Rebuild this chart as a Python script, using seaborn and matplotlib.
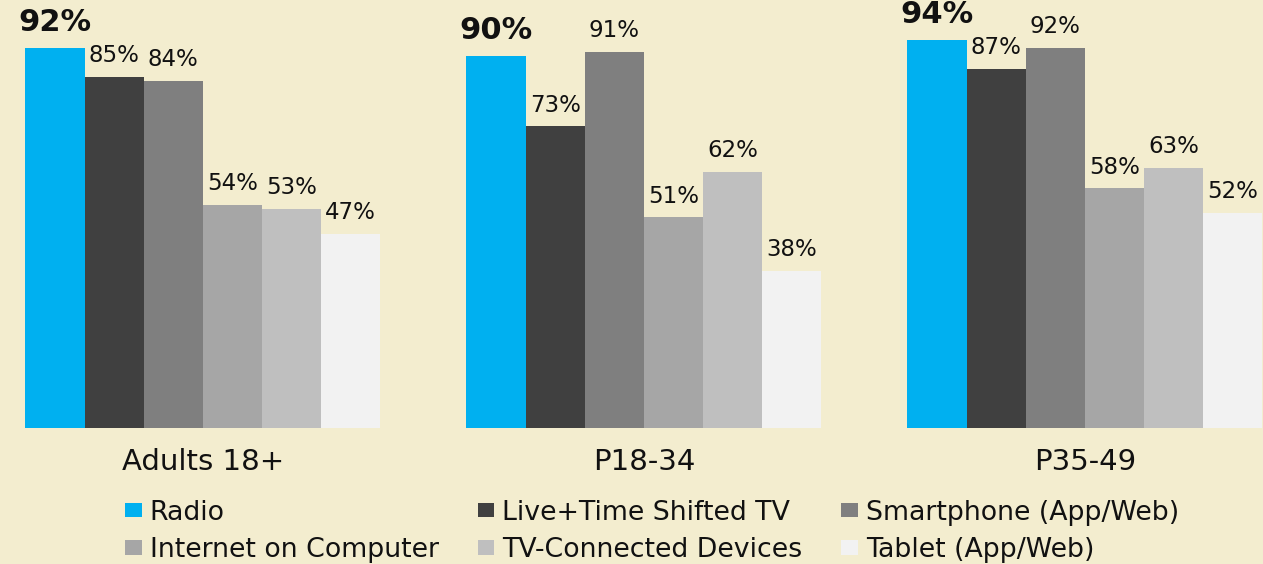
import numpy as np
import pandas as pd
import seaborn as sns
import matplotlib.pyplot as plt

# ---------------------------------- data ----------------------------------#
groups = ['Adults 18+', 'P18-34', 'P35-49']
devices = ['Radio', 'Live+Time Shifted TV', 'Smartphone (App/Web)',
           'Internet on Computer', 'TV-Connected Devices', 'Tablet (App/Web)']
radio = [92, 90, 94]
live_tv = [85, 73, 87]
smartphone = [84, 91, 92]
internet = [54, 51, 58]
tv_connected = [53, 62, 63]
tablet = [47, 38, 52]

colors = ['#00B0F0', '#404040', '#7F7F7F', '#A6A6A6', '#BFBFBF', '#F2F2F2']
bg = '#F3EDCF'

series = [radio, live_tv, smartphone, internet, tv_connected, tablet]
rows = []
for dev, vals in zip(devices, series):
    for g, v in zip(groups, vals):
        rows.append({'group': g, 'device': dev, 'value': v})
df = pd.DataFrame(rows)

# ---------------------------------- plot ----------------------------------#
sns.set_theme(style='white')
plt.rcParams['font.family'] = ['DejaVu Sans']

fig = plt.figure(figsize=(12.63, 5.64), dpi=100, facecolor=bg)
ax = fig.add_axes([0, 0.241, 1, 0.759])
ax.set_facecolor(bg)

sns.barplot(data=df, x='group', y='value', hue='device', hue_order=devices,
            palette=colors, width=0.805, saturation=1, ax=ax, legend=True,
            linewidth=0)

ax.set_xlim(-0.46, 2.404)
ax.set_ylim(0, 103.6)
ax.set_xlabel('')
ax.set_ylabel('')
ax.set_yticks([])
ax.tick_params(axis='x', length=0, pad=14, labelsize=21, labelcolor='#111111')
for s in ax.spines.values():
    s.set_visible(False)

for i, cont in enumerate(ax.containers):
    labels = ['%d%%' % v for v in series[i]]
    if i == 0:
        ax.bar_label(cont, labels=labels, padding=8, fontsize=22,
                     fontweight='bold', color='#111111')
    else:
        ax.bar_label(cont, labels=labels, padding=7, fontsize=16.5,
                     color='#111111')

handles, labs = ax.get_legend_handles_labels()
ax.get_legend().remove()
order = [0, 3, 1, 4, 2, 5]
fig.legend([handles[k] for k in order], [labs[k] for k in order],
           loc='upper left', bbox_to_anchor=(0.099, 0.114), ncol=3,
           frameon=False, fontsize=19.3, handlelength=0.62, handleheight=0.45,
           handletextpad=0.3, labelspacing=0.42, columnspacing=1.45,
           borderpad=0, borderaxespad=0, labelcolor='#111111')

plt.savefig('out.png', dpi=100, facecolor=bg)
